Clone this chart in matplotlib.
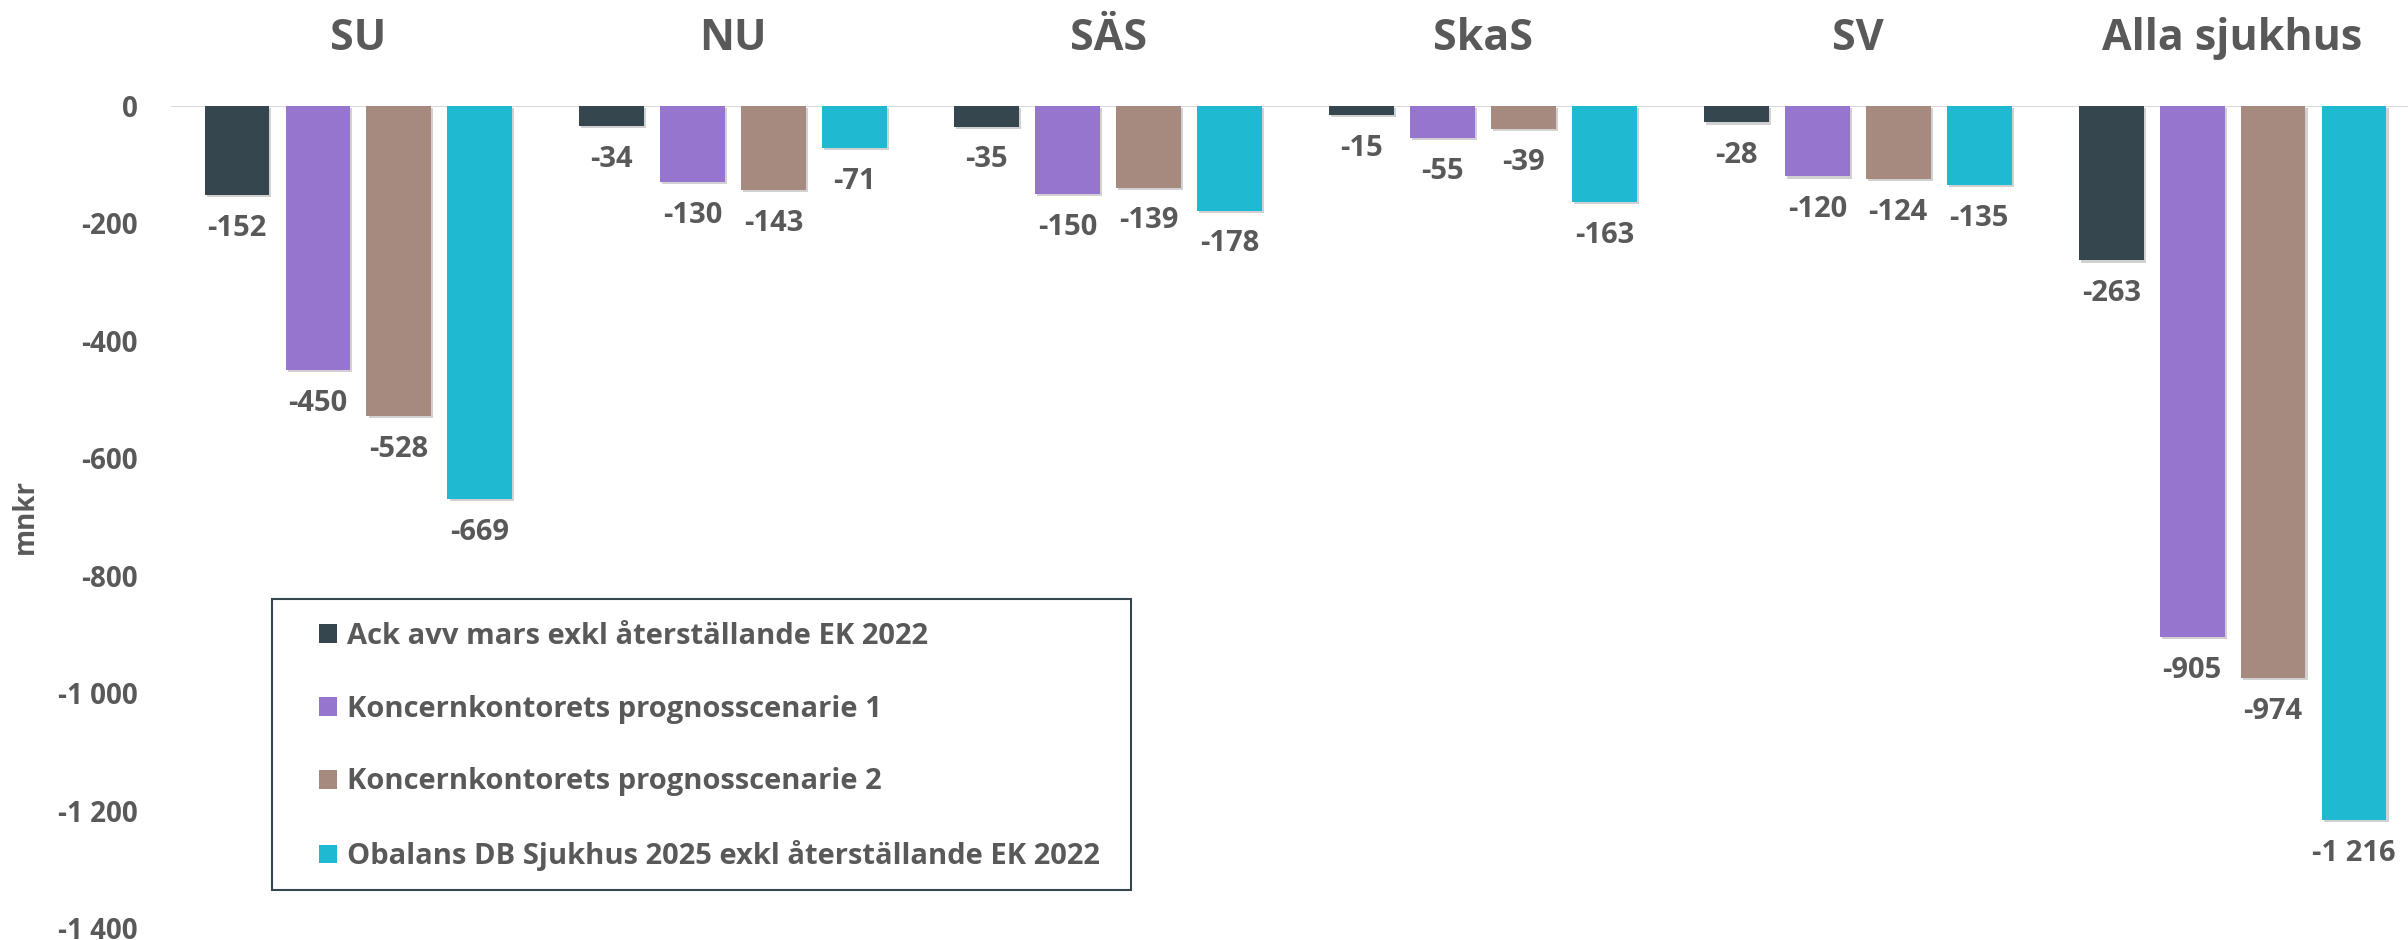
import matplotlib
matplotlib.use("Agg")
import matplotlib.pyplot as plt
import matplotlib.patheffects as pe
import matplotlib.transforms as mtrans
from matplotlib.patches import Rectangle, Patch
import numpy as np

plt.rcParams['font.family'] = ['Open Sans', 'DejaVu Sans']
plt.rcParams['font.weight'] = 'bold'

categories = ["SU", "NU", "SÄS", "SkaS", "SV", "Alla sjukhus"]
series_names = [
    "Ack avv mars exkl återställande EK 2022",
    "Koncernkontorets prognosscenarie 1",
    "Koncernkontorets prognosscenarie 2",
    "Obalans DB Sjukhus 2025 exkl återställande EK 2022",
]
ack_avv = [-152, -34, -35, -15, -28, -263]
scenario1 = [-450, -130, -150, -55, -120, -905]
scenario2 = [-528, -143, -139, -39, -124, -974]
obalans = [-669, -71, -178, -163, -135, -1216]
series_values = [ack_avv, scenario1, scenario2, obalans]
colors = ["#36464f", "#9575cd", "#a68a80", "#1fbad1"]
yticks = [0, -200, -400, -600, -800, -1000, -1200, -1400]

TXT = "#595959"
W, H = 2408, 940
fig = plt.figure(figsize=(W / 100, H / 100), dpi=100)
ax = fig.add_axes([171 / W, 12 / H, 2249 / W, 822 / H])

x = np.arange(len(categories))
step = 0.216
width = 0.173
shadow = [pe.SimplePatchShadow(offset=(1.5, -1.5), shadow_rgbFace="#000000", alpha=0.18), pe.Normal()]

def fmt(v):
    s = f"{abs(int(v)):,}".replace(",", " ")
    return ("-" if v < 0 else "") + s

ax.axhline(0, color="#d9d9d9", lw=1.5, zorder=0)
for i, (vals, col) in enumerate(zip(series_values, colors)):
    xs = x + (i - 1.5) * step
    bars = ax.bar(xs, vals, width=width, color=col, zorder=2)
    for b in bars:
        b.set_path_effects(shadow)
    for xi, v in zip(xs, vals):
        ax.annotate(fmt(v), (xi, v), xytext=(0, -24), textcoords="offset points",
                    ha="center", va="center", fontsize=21, fontweight="bold", color=TXT)

ax.set_xlim(-0.5, len(categories) - 0.5)
ax.set_ylim(-1400, 0)
ax.set_yticks(yticks)
ax.set_yticklabels([fmt(t) for t in yticks])
ax.set_xticks([])
ax.tick_params(axis="y", length=0, pad=24, labelsize=20, labelcolor=TXT)
for lab in ax.get_yticklabels():
    lab.set_fontweight("bold")
for s in ax.spines.values():
    s.set_visible(False)

trans = mtrans.blended_transform_factory(ax.transData, fig.transFigure)
for xi, c in zip(x, categories):
    ax.text(xi, 1 - 39 / H, c, transform=trans, ha="center", va="center",
            fontsize=31, fontweight="bold", color=TXT, clip_on=False)

fig.text(25 / W, 1 - 517 / H, "mnkr", rotation=90, ha="center", va="center",
         fontsize=20, fontweight="bold", color=TXT)

# legend frame
fig.patches.append(Rectangle((272 / W, 1 - 890 / H), (1131 - 272) / W, (890 - 599) / H,
                             transform=fig.transFigure, fill=True, facecolor="white",
                             edgecolor="#36464f", lw=1.5, zorder=3))
handles = [Patch(facecolor=c, edgecolor="none") for c in colors]
leg = fig.legend(handles, series_names, loc="upper left",
                 bbox_to_anchor=(319 / W, 1 - 622 / H), frameon=False,
                 borderpad=0, borderaxespad=0, handlelength=0.62, handleheight=0.62,
                 handletextpad=0.34, labelspacing=1.5, fontsize=21)
for t in leg.get_texts():
    t.set_color(TXT)
    t.set_fontweight("bold")
leg.set_zorder(4)

fig.savefig("out.png", dpi=100)
